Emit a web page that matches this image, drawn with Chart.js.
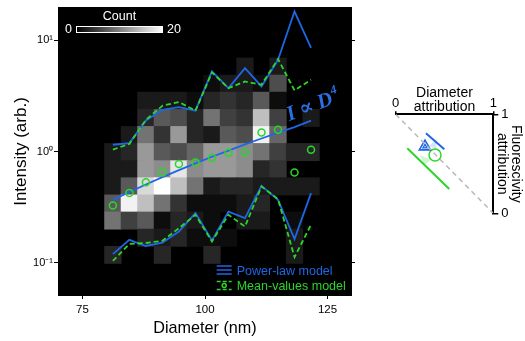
<!DOCTYPE html>
<html>
<head>
<meta charset="utf-8">
<script src="https://cdn.jsdelivr.net/npm/chart.js@4.4.1/dist/chart.umd.min.js"></script>
<style>
  html, body { margin: 0; padding: 0; background: #fff; }
  #wrap { position: relative; width: 525px; height: 341px; }
  #mainChart { position: absolute; left: 0; top: 0; }
  #attrChart { position: absolute; left: 370px; top: 0; }
</style>
</head>
<body>
<div id="wrap">
  <canvas id="mainChart" width="370" height="341"></canvas>
  <canvas id="attrChart" width="155" height="341"></canvas>
</div>
<script>
// ---- data ----
const diameters = [81.2, 84.57, 87.94, 91.31, 94.68, 98.05, 101.42, 104.79, 108.16, 111.53, 114.9, 118.27, 121.64];
// intensity bin edges, bottom to top
const rowEdges = [0.069, 0.0983, 0.140, 0.200, 0.285, 0.406, 0.580, 0.826, 1.18, 1.68, 2.39, 3.42, 4.87, 6.94];
const countMax = 20;
// counts per cell, top row first
const counts = [
  [0, 0, 0, 0, 0, 0, 0, 0, 2, 0, 2, 0, 0],
  [0, 0, 0, 0, 0, 0, 1, 2, 2, 1, 6, 0, 0],
  [0, 0, 2, 2, 2, 1, 3, 4, 3, 7, 1, 0, 0],
  [0, 0, 3, 7, 6, 3, 9, 5, 4, 15, 5, 0, 2],
  [0, 2, 9, 4, 12, 3, 2, 7, 6, 19, 8, 0, 0],
  [2, 3, 12, 7, 6, 8, 12, 12, 11, 9, 5, 3, 3],
  [2, 2, 12, 11, 18, 11, 12, 12, 11, 3, 4, 0, 0],
  [2, 7, 17, 20, 15, 9, 2, 3, 3, 2, 2, 2, 2],
  [7, 19, 15, 9, 4, 1, 1, 1, 2, 3, 0, 0, 0],
  [9, 5, 7, 1, 3, 2, 1, 0, 2, 2, 0, 1, 0],
  [0, 0, 3, 2, 3, 1, 1, 1, 0, 0, 0, 2, 0],
  [3, 0, 0, 3, 0, 0, 3, 0, 0, 0, 0, 2, 0],
  [0, 0, 0, 0, 0, 0, 0, 0, 0, 0, 0, 0, 0],
];
const powerUpper = [1.15, 1.19, 1.90, 2.37, 2.51, 2.33, 5.26, 3.72, 5.64, 3.85, 6.70, 18.2, 8.55];
const powerLower = [0.119, 0.160, 0.141, 0.151, 0.190, 0.279, 0.158, 0.288, 0.251, 0.491, 0.367, 0.163, 0.422];
const meanUpper = [1.04, 1.17, 1.93, 2.58, 2.79, 2.33, 5.15, 3.72, 4.27, 3.99, 6.80, 3.55, 4.43];
const meanLower = [0.1035, 0.147, 0.150, 0.157, 0.204, 0.269, 0.155, 0.269, 0.211, 0.484, 0.373, 0.112, 0.219];
const meanValues = [0.326, 0.422, 0.528, 0.647, 0.772, 0.796, 0.877, 0.973, 0.979, 1.48, 1.57, 0.647, 1.035];
const fitLine = [0.367, 0.432, 0.505, 0.588, 0.680, 0.783, 0.897, 1.02, 1.16, 1.31, 1.48, 1.66, 1.90];
const xTicks = [75, 100, 125];
const yTicks = [0.1, 1, 10];
const yTickLabels = ["10⁻¹", "10⁰", "10¹"];

// attribution diagram (x: diameter, y: fluorescivity)
const diagonal = [[0, 1], [1, 0]];
const powerSegment = [[0.31, 0.808], [0.498, 0.646]];
const meanSegment = [[0.119, 0.657], [0.549, 0.245]];
const powerPoint = [0.30, 0.673];
const meanPoint = [0.403, 0.589];
const powerPatch = [[0.341, 0.68], [0.423, 0.751], [0.413, 0.65], [0.341, 0.68]];
const meanPatch = [[0.249, 0.589], [0.362, 0.538], [0.29, 0.488], [0.249, 0.589]];

const BLUE = "#1f66e5";
const GREEN = "#2bd62b";
const FONT = '"Liberation Sans", Arial, Helvetica, sans-serif';
Chart.defaults.font.family = FONT;
Chart.defaults.color = "#000";

const pts = (ys) => diameters.map((d, i) => ({ x: d, y: ys[i] }));
const xy = (arr) => arr.map((p) => ({ x: p[0], y: p[1] }));

// heatmap cells as floating bars
const cellData = [];
const cellColors = [];
counts.forEach((row, r) => {
  const b = rowEdges.length - 2 - r;
  row.forEach((c, i) => {
    if (!c) return;
    cellData.push({ x: diameters[i], y: [rowEdges[b], rowEdges[b + 1]] });
    const g = Math.round((255 * c) / countMax);
    cellColors.push(`rgb(${g},${g},${g})`);
  });
});

const blackArea = {
  id: "blackArea",
  beforeDatasetsDraw(chart) {
    const { ctx, chartArea: a } = chart;
    ctx.save();
    ctx.fillStyle = "#000";
    ctx.fillRect(a.left, a.top, a.right - a.left, a.bottom - a.top);
    ctx.restore();
  },
};

const overlay = {
  id: "overlay",
  afterDraw(chart) {
    const { ctx, chartArea: a, scales } = chart;
    ctx.save();

    // colour bar
    const cbL = a.left + 18, cbT = a.top + 19, cbW = 87, cbH = 7;
    const grad = ctx.createLinearGradient(cbL, 0, cbL + cbW, 0);
    grad.addColorStop(0, "#000");
    grad.addColorStop(1, "#fff");
    ctx.fillStyle = grad;
    ctx.fillRect(cbL, cbT, cbW, cbH);
    ctx.strokeStyle = "#fff";
    ctx.lineWidth = 1;
    ctx.strokeRect(cbL + 0.5, cbT + 0.5, cbW - 1, cbH - 1);
    ctx.fillStyle = "#fff";
    ctx.font = `12.5px ${FONT}`;
    ctx.textBaseline = "middle";
    ctx.textAlign = "right";
    ctx.fillText("0", cbL - 4, cbT + cbH / 2 + 0.5);
    ctx.textAlign = "left";
    ctx.fillText(String(countMax), cbL + cbW + 4, cbT + cbH / 2 + 0.5);
    ctx.textAlign = "center";
    ctx.fillText("Count", cbL + cbW / 2, cbT - 9);

    // legend
    const lx = a.right - 135.3, tx = a.right - 115.3;
    const b1 = a.bottom - 21.5, b2 = a.bottom - 6.5;
    ctx.strokeStyle = BLUE;
    ctx.lineWidth = 1.5;
    [-8.5, -4.5, -0.5].forEach((dy) => {
      ctx.beginPath();
      ctx.moveTo(lx, b1 + dy);
      ctx.lineTo(lx + 15, b1 + dy);
      ctx.stroke();
    });
    ctx.strokeStyle = GREEN;
    ctx.setLineDash([4, 2]);
    [-8, 0].forEach((dy) => {
      ctx.beginPath();
      ctx.moveTo(lx, b2 + dy);
      ctx.lineTo(lx + 15, b2 + dy);
      ctx.stroke();
    });
    ctx.setLineDash([]);
    ctx.beginPath();
    ctx.arc(lx + 7.5, b2 - 4, 2, 0, Math.PI * 2);
    ctx.stroke();
    ctx.font = `12.5px ${FONT}`;
    ctx.textAlign = "left";
    ctx.textBaseline = "alphabetic";
    ctx.fillStyle = BLUE;
    ctx.fillText("Power-law model", tx, b1);
    ctx.fillStyle = GREEN;
    ctx.fillText("Mean-values model", tx, b2);

    // I ∝ D^4 label
    const px = scales.x.getPixelForValue(122);
    const py = scales.y.getPixelForValue(2.55);
    ctx.translate(px, py);
    ctx.rotate((-21 * Math.PI) / 180);
    const big = `italic bold 21px "Liberation Serif", "DejaVu Serif", serif`;
    const small = `italic bold 12.5px "Liberation Serif", "DejaVu Serif", serif`;
    ctx.font = big;
    const main = "I ∝ D";
    const w1 = ctx.measureText(main).width;
    ctx.font = small;
    const w2 = ctx.measureText("4").width;
    const start = -(w1 + w2) / 2;
    ctx.fillStyle = "#2a6fe3";
    ctx.textAlign = "left";
    ctx.textBaseline = "middle";
    ctx.font = big;
    ctx.fillText(main, start, 0);
    ctx.font = small;
    ctx.fillText("4", start + w1 + 1, -7.5);
    ctx.restore();
  },
};

new Chart(document.getElementById("mainChart"), {
  type: "bar",
  data: {
    datasets: [
      {
        type: "bar",
        data: cellData,
        backgroundColor: cellColors,
        borderWidth: 0,
        barPercentage: 1,
        categoryPercentage: 1,
        inflateAmount: 0.4,
        grouped: false,
        order: 10,
      },
      { type: "line", data: pts(powerUpper), borderColor: BLUE, borderWidth: 1.8, pointRadius: 0, order: 5 },
      { type: "line", data: pts(powerLower), borderColor: BLUE, borderWidth: 1.8, pointRadius: 0, order: 5 },
      { type: "line", data: pts(meanUpper), borderColor: GREEN, borderWidth: 1.8, borderDash: [5, 3], pointRadius: 0, order: 4 },
      { type: "line", data: pts(meanLower), borderColor: GREEN, borderWidth: 1.8, borderDash: [5, 3], pointRadius: 0, order: 4 },
      { type: "line", data: pts(fitLine), borderColor: BLUE, borderWidth: 1.8, pointRadius: 0, order: 3 },
      {
        type: "line",
        data: pts(meanValues),
        showLine: false,
        pointRadius: 3.5,
        pointBorderWidth: 1.5,
        pointBorderColor: GREEN,
        pointBackgroundColor: "rgba(0,0,0,0)",
        order: 1,
      },
    ],
  },
  options: {
    responsive: false,
    animation: false,
    devicePixelRatio: 1,
    events: [],
    layout: { padding: { left: 0, top: 7, right: 15, bottom: 0 } },
    plugins: { legend: { display: false }, tooltip: { enabled: false } },
    scales: {
      x: {
        type: "linear",
        min: 70,
        max: 130,
        offset: false,
        grid: { offset: false, drawOnChartArea: false, tickLength: 3, color: "#000" },
        border: { display: false },
        afterBuildTicks: (s) => { s.ticks = xTicks.map((v) => ({ value: v })); },
        ticks: { font: { size: 11.5 }, padding: 4, maxRotation: 0, autoSkip: false, color: "#000" },
        title: { display: true, text: "Diameter (nm)", font: { size: 16.2 }, padding: { top: 0, bottom: 2.5 }, color: "#000" },
        afterFit: (s) => { s.height = 45; s.paddingLeft = 0; s.paddingRight = 0; },
      },
      y: {
        type: "logarithmic",
        position: "left",
        min: 0.05,
        max: 20,
        grid: { drawOnChartArea: false, tickLength: 4, color: "#000" },
        border: { display: false },
        afterBuildTicks: (s) => { s.ticks = yTicks.map((v) => ({ value: v })); },
        ticks: { font: { size: 11 }, padding: 1, autoSkip: false, color: "#000", callback: (v, i) => yTickLabels[i] },
        title: { display: true, text: "Intensity (arb.)", font: { size: 17 }, padding: { top: 11.3 }, color: "#000" },
        afterFit: (s) => { s.width = 58; s.paddingTop = 0; s.paddingBottom = 0; },
      },
      y2: {
        type: "logarithmic",
        position: "right",
        min: 0.05,
        max: 20,
        grid: { drawOnChartArea: false, tickLength: 3, color: "#000" },
        border: { display: false },
        afterBuildTicks: (s) => { s.ticks = yTicks.map((v) => ({ value: v })); },
        ticks: { display: false },
        afterFit: (s) => { s.width = 3; s.paddingTop = 0; s.paddingBottom = 0; },
      },
    },
  },
  plugins: [blackArea, overlay],
});

new Chart(document.getElementById("attrChart"), {
  type: "scatter",
  data: {
    datasets: [
      { data: xy(diagonal), showLine: true, borderColor: "#b8b8b8", borderWidth: 1.5, borderDash: [5, 4], pointRadius: 0 },
      { data: xy(powerPatch), showLine: true, borderWidth: 0, borderColor: "rgba(0,0,0,0)", backgroundColor: "rgba(31,102,229,0.18)", fill: "shape", pointRadius: 0 },
      { data: xy(meanPatch), showLine: true, borderWidth: 0, borderColor: "rgba(0,0,0,0)", backgroundColor: "rgba(43,214,43,0.22)", fill: "shape", pointRadius: 0 },
      { data: xy(powerSegment), showLine: true, borderColor: BLUE, borderWidth: 2, pointRadius: 0 },
      { data: xy(meanSegment), showLine: true, borderColor: GREEN, borderWidth: 2, pointRadius: 0 },
      { data: xy([powerPoint]), pointStyle: "triangle", pointRadius: 6.5, pointBorderWidth: 1.6, pointBorderColor: BLUE, pointBackgroundColor: "rgba(0,0,0,0)" },
      { data: xy([powerPoint]), pointStyle: "triangle", pointRadius: 2.3, pointBorderWidth: 1.3, pointBorderColor: BLUE, pointBackgroundColor: "rgba(0,0,0,0)" },
      { data: xy([meanPoint]), pointRadius: 6, pointBorderWidth: 1.5, pointBorderColor: GREEN, pointBackgroundColor: "#fff" },
      { data: xy([meanPoint]), pointRadius: 3.3, pointBorderWidth: 0, pointBackgroundColor: GREEN },
    ],
  },
  options: {
    responsive: false,
    animation: false,
    devicePixelRatio: 1,
    events: [],
    layout: { padding: { left: 25.7, top: 0, right: 0, bottom: 127.7 } },
    plugins: { legend: { display: false }, tooltip: { enabled: false } },
    scales: {
      x: {
        type: "linear",
        position: "top",
        min: 0,
        max: 1,
        grid: { drawOnChartArea: false, tickLength: 3, color: "#000", lineWidth: 1.5 },
        border: { display: true, color: "#000", width: 2 },
        afterBuildTicks: (s) => { s.ticks = [{ value: 0 }, { value: 1 }]; },
        ticks: { font: { size: 13 }, padding: 0, color: "#000", maxRotation: 0 },
        title: { display: true, text: ["Diameter", "attribution"], font: { size: 14, lineHeight: 1 }, padding: { top: 86.5 }, color: "#000" },
        afterFit: (s) => { s.height = 114.3; s.paddingLeft = 0; s.paddingRight = 0; },
      },
      y: {
        type: "linear",
        position: "right",
        min: 0,
        max: 1,
        grid: { drawOnChartArea: false, tickLength: 5, color: "#000", lineWidth: 1.5 },
        border: { display: true, color: "#000", width: 2 },
        afterBuildTicks: (s) => { s.ticks = [{ value: 0 }, { value: 1 }]; },
        ticks: { font: { size: 13 }, padding: 3, color: "#000" },
        title: { display: true, text: ["Fluorescivity", "attribution"], font: { size: 14, lineHeight: 1 }, padding: { top: 2 }, color: "#000" },
        afterFit: (s) => { s.width = 31.7; s.paddingTop = 0; s.paddingBottom = 0; },
      },
    },
  },
});
</script>
</body>
</html>
